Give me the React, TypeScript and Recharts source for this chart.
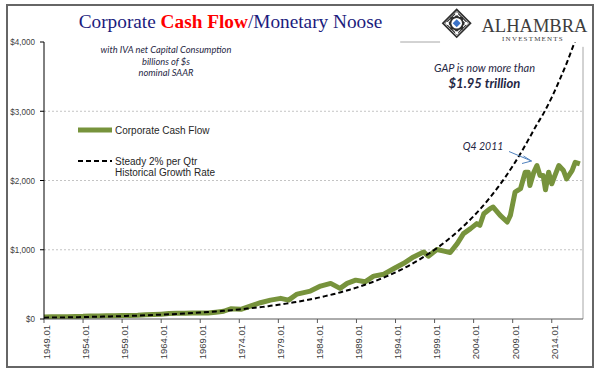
import { LineChart, Line, XAxis, YAxis, CartesianGrid, Legend, ReferenceLine } from "recharts";

// corporate cash flow, billions of $
const CASH_YEARS = [
  1949, 1950, 1951, 1952, 1953, 1954, 1955, 1956, 1957, 1958, 1959, 1960, 1961, 1962,
  1963, 1964, 1965, 1966, 1967, 1968, 1969, 1970, 1971, 1972, 1972.9, 1974.2, 1975.4,
  1976.7, 1978.0, 1979.3, 1980.3, 1981.4, 1983.1, 1984.4, 1985.7, 1986.9, 1987.8, 1988.9,
  1990.1, 1991.2, 1992.5, 1993.8, 1995.0, 1996.3, 1997.6, 1998.2, 1999.3, 2000.2, 2001.0,
  2001.9, 2002.7, 2003.6, 2004.4, 2004.8, 2005.3, 2006.1, 2006.5, 2007.4, 2008.3, 2008.7,
  2009.3, 2010.0, 2010.6, 2011.0, 2011.2, 2011.7, 2012.1, 2012.5, 2012.9, 2013.2, 2013.6,
  2014.0, 2014.4, 2014.9, 2015.5, 2015.9, 2016.6, 2017.0, 2017.6,
];
const CASH_VALUES = [
  28, 32, 34, 34, 36, 38, 44, 44, 46, 46, 52, 52, 54, 60,
  64, 70, 78, 82, 84, 86, 88, 86, 98, 112, 148, 140, 187,
  235, 273, 298, 273, 360, 403, 475, 514, 442, 514, 561,
  537, 619, 647, 729, 801, 896, 968, 906, 1003, 980, 960,
  1089, 1233, 1305, 1377, 1353, 1521, 1593, 1616, 1496, 1400, 1496,
  1832, 1881, 2119, 2119, 1928, 2119, 2216, 2072, 2072, 1866, 2119,
  1953, 2072, 2216, 2144, 2024, 2144, 2263, 2240,
];

// steady 2% per quarter line, one reading per year
const TREND_YEARS = [
  1949, 1950, 1951, 1952, 1953, 1954, 1955, 1956, 1957, 1958, 1959, 1960, 1961, 1962,
  1963, 1964, 1965, 1966, 1967, 1968, 1969, 1970, 1971, 1972, 1973, 1974, 1975, 1976,
  1977, 1978, 1979, 1980, 1981, 1982, 1983, 1984, 1985, 1986, 1987, 1988, 1989, 1990,
  1991, 1992, 1993, 1994, 1995, 1996, 1997, 1998, 1999, 2000, 2001, 2002, 2003, 2004,
  2005, 2006, 2007, 2008, 2009, 2010, 2011, 2012, 2013, 2014, 2015, 2016, 2017, 2018,
];
const TREND_VALUES = [
  19, 21, 22, 24, 26, 28, 31, 33, 36, 39, 42, 46, 49, 53,
  58, 63, 68, 73, 79, 86, 93, 101, 109, 118, 128, 138, 150, 162,
  175, 190, 205, 222, 241, 260, 282, 305, 330, 357, 387, 419, 453, 491,
  531, 575, 622, 674, 729, 789, 855, 925, 1000, 1082, 1172, 1268, 1373, 1486,
  1608, 1741, 1885, 2040, 2208, 2390, 2587, 2790, 2980, 3200, 3450, 3720, 4020, 4330,
];

const X_TICKS = [1949, 1954, 1959, 1964, 1969, 1974, 1979, 1984, 1989, 1994, 1999, 2004, 2009, 2014];
const Y_TICKS = [0, 1000, 2000, 3000, 4000];

const cashData = CASH_YEARS.map((year, i) => ({ year, cash: CASH_VALUES[i] }));
const trendData = TREND_YEARS.map((year, i) => ({ year, trend: TREND_VALUES[i] }));

const GREEN = "#77933c";
const NAVY = "#1b1b7d";
const NOTE = "#1f2744";
const SANS = "'Liberation Sans', Arial, sans-serif";
const SERIF = "'Liberation Serif', 'DejaVu Serif', serif";
const ITALIC = "Lato, 'Open Sans', sans-serif";

function YearTick(props: any) {
  const { x, y, payload } = props;
  return (
    <text
      transform={`translate(${x + 2.5},${y}) rotate(-90)`}
      textAnchor="end"
      dy="0.35em"
      fontSize={9.5}
      fontFamily={SANS}
      fill="#404040"
    >
      {`${payload.value}.01`}
    </text>
  );
}

// the original uses a condensed face for the dollar labels, so squeeze them a little
function DollarTick(props: any) {
  const { x, y, payload } = props;
  return (
    <text
      transform={`translate(${x},${y}) scale(0.85,1)`}
      textAnchor="end"
      dy="0.35em"
      fontSize={9.5}
      fontFamily={SANS}
      fill="#404040"
    >
      {`$${payload.value.toLocaleString("en-US")}`}
    </text>
  );
}

function LegendBox() {
  const txt = { fontFamily: SANS, fontSize: 10, fill: "#262626" };
  return (
    <svg width={170} height={60} style={{ display: "block" }}>
      <line x1={0} y1={8} x2={34} y2={8} stroke={GREEN} strokeWidth={5} />
      <text x={37} y={8} dy="0.35em" {...txt}>Corporate Cash Flow</text>
      <line x1={0} y1={39} x2={34} y2={39} stroke="#000" strokeWidth={2} strokeDasharray="5 3" />
      <text x={37} y={39} dy="0.35em" {...txt}>Steady 2% per Qtr</text>
      <text x={37} y={50} dy="0.35em" {...txt}>Historical Growth Rate</text>
    </svg>
  );
}

function Logo() {
  const cx = 456.7;
  const cy = 23.3;
  const d = (r: number) => `M${cx},${cy - r} L${cx + r},${cy} L${cx},${cy + r} L${cx - r},${cy} Z`;
  const sq = (r: number) => `M${cx - r},${cy - r} L${cx + r},${cy - r} L${cx + r},${cy + r} L${cx - r},${cy + r} Z`;
  const corners = [
    [0, -9.5], [9.5, 0], [0, 9.5], [-9.5, 0],
  ];
  return (
    <g>
      <path d={d(15)} fill="#2e2e2e" />
      <path d={d(12.6)} fill="#fff" />
      <path d={d(11.2)} fill="none" stroke="#2e2e2e" strokeWidth={1.2} />
      <path d={sq(6.3)} fill="#2e2e2e" />
      <path d={d(8.9)} fill="#2e2e2e" />
      <circle cx={cx} cy={cy} r={5.3} fill="#fff" />
      {corners.map(([dx, dy], i) => (
        <circle key={i} cx={cx + dx} cy={cy + dy} r={1.6} fill="#fff" />
      ))}
      <path d={d(4)} fill="#3a72c8" />
      <text x={481.5} y={31.7} fontFamily={SERIF} fontSize={18.5} fill="#3d3d3d">ALHAMBRA</text>
      <text x={533} y={40.5} textAnchor="middle" fontFamily={SERIF} fontSize={7} letterSpacing={1.2} fill="#3d3d3d">
        INVESTMENTS
      </text>
    </g>
  );
}

export default function App() {
  return (
    <div style={{ position: "relative", width: 600, height: 382, background: "#fff", overflow: "hidden" }}>
      <style>{"body{margin:0}"}</style>
      <div
        style={{
          position: "absolute", left: 6, top: 4, width: 588, height: 364,
          border: "2px solid #666", boxSizing: "border-box",
        }}
      />
      <div style={{ position: "absolute", left: 0, top: 0 }}>
        <LineChart width={600} height={382} margin={{ top: 42, right: 17, bottom: 13, left: 0 }}>
          <CartesianGrid horizontal vertical={false} horizontalValues={[1000, 2000, 3000]} stroke="#c4c4c4" strokeDasharray="2 2" />
          <XAxis
            dataKey="year"
            type="number"
            domain={[1949, 2018]}
            ticks={X_TICKS}
            interval={0}
            height={50}
            tickSize={4}
            tickMargin={2}
            stroke="#595959"
            tick={<YearTick />}
          />
          <YAxis
            type="number"
            domain={[0, 4000]}
            ticks={Y_TICKS}
            allowDataOverflow
            width={44}
            tickSize={4}
            tickMargin={5}
            stroke="#000"
            tick={<DollarTick />}
          />
          <ReferenceLine segment={[{ x: 1994.6, y: 4000 }, { x: 1999.7, y: 4000 }]} stroke="#a6a6a6" />
          <ReferenceLine segment={[{ x: 2018, y: 0 }, { x: 2018, y: 3930 }]} stroke="#a6a6a6" />
          <Legend
            layout="horizontal"
            verticalAlign="middle"
            align="center"
            wrapperStyle={{ position: "absolute", left: 78, top: 122, width: 170 }}
            content={() => <LegendBox />}
          />
          <Line
            data={cashData}
            dataKey="cash"
            name="Corporate Cash Flow"
            type="linear"
            stroke={GREEN}
            strokeWidth={5}
            strokeLinejoin="round"
            dot={false}
            isAnimationActive={false}
          />
          <Line
            data={trendData}
            dataKey="trend"
            name="Steady 2% per Qtr Historical Growth Rate"
            type="monotone"
            stroke="#000"
            strokeWidth={2}
            strokeDasharray="5 3"
            dot={false}
            isAnimationActive={false}
          />
        </LineChart>
      </div>
      <svg width={600} height={382} style={{ position: "absolute", left: 0, top: 0, pointerEvents: "none" }}>
        <text x={230.5} y={27.5} textAnchor="middle" fontFamily={SERIF} fontSize={19.3}>
          <tspan fill={NAVY}>Corporate </tspan>
          <tspan fill="#ff0000" fontWeight="bold">Cash Flow</tspan>
          <tspan fill={NAVY}>/Monetary Noose</tspan>
        </text>
        <g fontFamily={ITALIC} fontStyle="italic" fontSize={9.3} fill={NOTE} textAnchor="middle">
          <text x={166} y={49.3} dy="0.35em">with IVA net Capital Consumption</text>
          <text x={166} y={61.5} dy="0.35em">billions of $s</text>
          <text x={166} y={73} dy="0.35em">nominal SAAR</text>
        </g>
        <g fontFamily={ITALIC} fontStyle="italic" fill={NOTE} textAnchor="middle">
          <text x={484.5} y={68.3} dy="0.35em" fontSize={11}>GAP is now more than</text>
          <text x={484.5} y={83.5} dy="0.35em" fontSize={13} fontWeight="bold">$1.95 trillion</text>
          <text x={483} y={146} dy="0.35em" fontSize={10.5}>Q4 2011</text>
        </g>
        <line x1={509} y1={151.5} x2={531.5} y2={161} stroke="#4f81bd" strokeWidth={1} />
        <polyline points="523.5,156 531.5,161 522,163.5" fill="none" stroke="#4f81bd" strokeWidth={1} />
        <Logo />
      </svg>
    </div>
  );
}
